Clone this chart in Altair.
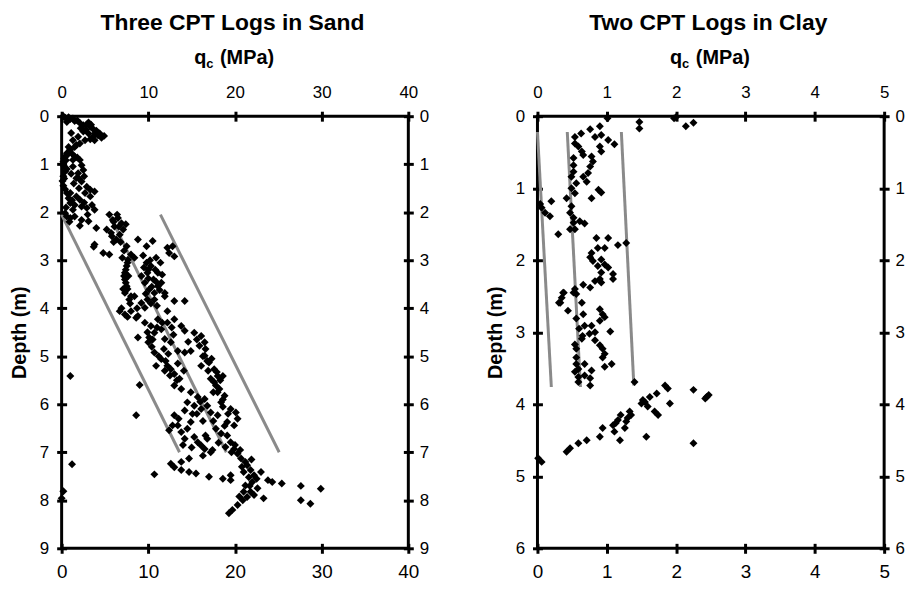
import altair as alt
import pandas as pd

FONT = "Liberation Sans, Arial, Helvetica, sans-serif"

# ---------------- data: sand (qc MPa, depth m) ----------------
sand_upper = [
    [0.4, 0.03], [0.2, 0.0], [0.8, 0.02], [1.0, 0.06], [1.3, 0.05], [1.5, 0.1], [1.8, 0.09],
    [2.1, 0.14], [2.5, 0.19], [2.9, 0.17], [3.1, 0.13], [3.3, 0.22], [3.6, 0.26], [3.4, 0.18],
    [4.0, 0.3], [4.4, 0.36], [4.9, 0.41], [4.6, 0.45], [2.5, 0.32], [2.8, 0.28], [3.1, 0.36],
    [3.6, 0.43], [3.8, 0.5], [3.3, 0.48], [2.7, 0.5], [2.1, 0.57], [1.9, 0.43], [1.5, 0.64],
    [1.3, 0.5], [1.0, 0.7], [0.8, 0.64], [0.6, 0.77], [1.7, 0.6], [0.4, 0.84], [1.2, 0.78],
    [0.3, 0.88], [0.2, 0.95], [0.3, 1.05], [0.4, 1.15], [0.2, 1.25], [0.1, 1.35], [0.2, 1.45],
    [0.4, 1.52], [0.5, 0.92], [0.6, 1.1], [0.3, 1.3], [1.5, 0.84], [2.1, 0.91], [1.8, 0.86],
    [2.3, 1.02], [2.5, 1.12], [1.9, 1.19], [1.7, 1.29], [2.3, 1.36], [2.9, 1.47], [3.3, 1.53],
    [3.8, 1.57], [3.3, 1.67], [2.7, 1.6], [1.3, 0.91], [1.3, 1.05], [1.1, 1.2], [1.4, 1.4],
    [2.0, 1.5], [0.6, 1.6], [0.8, 1.71], [1.0, 1.81], [1.5, 1.85], [2.1, 1.74], [2.3, 1.88],
    [2.9, 1.91], [3.8, 1.95], [1.7, 1.67], [1.3, 1.95], [0.4, 2.02], [0.6, 2.09], [1.0, 2.12],
    [1.5, 2.09], [2.3, 2.16], [3.1, 2.19], [2.1, 2.28], [0.9, 2.2], [1.2, 1.75], [2.6, 1.8],
    [3.0, 2.05], [0.5, 1.9], [4.2, 0.4], [3.9, 0.35], [2.2, 0.25], [2.0, 1.3], [2.6, 1.25],
    [1.0, 1.6], [3.5, 1.85], [0.7, 0.8], [1.1, 0.35], [0.6, 0.12],
]
sand_mid = [
    [5.5, 2.05], [5.9, 2.16], [6.5, 2.12], [6.9, 2.23], [7.1, 2.36], [6.1, 2.3], [5.7, 2.43],
    [5.2, 2.36], [6.3, 2.57], [6.7, 2.47], [6.4, 2.05], [7.4, 2.25], [6.0, 2.2], [5.8, 2.5],
    [6.0, 2.62], [3.8, 2.67], [4.0, 2.33], [3.7, 2.72], [4.8, 2.85], [5.5, 2.88], [7.5, 2.71],
    [8.8, 2.57], [9.8, 2.71], [10.5, 2.6], [12.2, 2.74], [12.8, 2.71], [13.0, 2.92], [12.4, 2.85],
    [8.0, 2.88], [8.4, 2.95], [7.2, 2.8], [7.65, 2.99], [7.5, 3.12], [7.3, 3.26], [7.3, 3.4],
    [7.5, 3.54], [7.3, 3.68], [8.0, 3.75], [7.6, 3.05], [7.4, 3.2], [7.2, 3.33], [7.4, 3.47],
    [7.6, 3.6], [9.8, 3.05], [10.3, 3.12], [9.9, 3.26], [9.2, 3.33], [9.6, 3.47], [10.1, 3.61],
    [10.7, 3.68], [11.1, 3.54], [11.5, 3.47], [11.1, 3.26], [10.6, 3.4], [11.9, 3.75], [10.2, 3.0],
    [10.8, 3.2], [9.5, 3.15], [10.4, 3.55], [11.3, 3.62], [9.9, 3.82], [7.8, 3.82], [8.4, 3.75],
    [6.7, 4.06], [7.3, 4.13], [8.0, 4.06], [8.8, 4.16], [9.6, 3.99], [9.2, 3.89], [10.7, 3.82],
    [11.9, 3.68], [13.0, 3.85], [14.2, 3.85], [12.2, 4.06], [6.9, 4.0], [7.6, 4.18],
    [9.4, 2.9], [10.9, 2.95], [11.4, 3.05], [10.0, 3.38], [11.6, 3.3], [7.9, 3.9], [10.3, 3.9],
    [6.6, 2.3], [6.8, 2.62], [7.0, 2.95], [7.7, 3.33], [7.1, 3.6], [9.7, 3.7], [11.0, 3.95],
    [10.0, 3.2], [10.9, 3.45], [8.7, 4.0],
]
sand_lower = [
    [8.6, 4.2], [9.6, 4.3], [10.3, 4.37], [10.7, 4.51], [10.0, 4.71], [10.1, 4.61], [11.1, 4.23],
    [11.5, 4.44], [11.9, 4.64], [12.2, 4.3], [13.0, 4.23], [13.8, 4.37], [14.2, 4.47], [8.8, 4.61],
    [10.4, 4.8], [11.0, 4.4], [9.9, 4.5], [12.6, 4.71], [13.4, 4.89], [14.2, 4.92], [14.9, 4.89],
    [15.3, 4.51], [16.1, 4.58], [16.5, 4.71], [15.9, 4.78], [16.6, 4.85], [10.7, 4.92], [11.5, 5.06],
    [10.9, 5.2], [12.2, 5.2], [12.6, 5.27], [13.0, 5.37], [13.6, 5.47], [13.0, 5.61], [13.8, 5.68],
    [11.2, 5.0], [12.0, 5.1], [13.3, 5.5], [16.5, 4.99], [17.0, 5.13], [17.6, 5.27], [18.0, 5.41],
    [17.6, 5.54], [18.2, 5.68], [18.8, 5.82], [18.4, 5.96], [17.8, 5.61], [18.6, 5.41], [17.2, 5.47],
    [16.1, 5.2], [17.3, 5.05], [17.9, 5.33], [18.3, 5.5], [18.0, 5.75], [18.6, 5.9], [16.8, 5.1],
    [1.0, 5.41], [9.0, 5.6], [8.6, 6.23], [1.2, 7.25], [0.2, 7.81], [0.0, 7.96],
    [12.9, 4.55], [14.6, 4.7], [11.8, 4.85], [12.5, 5.4], [14.1, 5.3], [12.3, 4.95],
    [10.5, 4.65], [11.6, 4.3], [12.7, 4.4], [16.9, 5.3], [17.5, 5.75], [13.4, 5.15], [11.9, 5.3],
    [16.3, 5.0], [15.6, 4.65],
]
sand_deep = [
    [14.9, 5.75], [15.7, 5.85], [16.5, 5.89], [15.3, 6.03], [14.5, 5.96], [14.2, 6.13], [16.1, 6.1],
    [16.8, 6.03], [17.2, 6.17], [18.0, 6.23], [19.5, 6.1], [20.1, 6.17], [20.3, 6.3], [19.9, 6.44],
    [19.1, 6.37], [19.2, 6.2], [16.0, 5.95], [15.6, 6.2], [13.0, 6.23], [13.4, 6.44], [12.4, 6.54],
    [13.8, 6.58], [14.5, 6.51], [14.9, 6.37], [14.2, 6.72], [15.3, 6.68], [15.7, 6.79], [16.8, 6.72],
    [16.5, 6.93], [17.2, 7.0], [17.8, 6.51], [18.4, 6.61], [19.1, 6.65], [19.5, 6.79], [18.9, 6.89],
    [19.9, 6.93], [20.3, 7.03], [20.7, 7.13], [21.2, 7.2], [21.4, 7.27], [21.8, 7.37], [21.0, 7.41],
    [22.2, 7.48], [23.0, 7.41], [23.8, 7.58], [24.3, 7.62], [25.4, 7.65], [22.0, 7.62], [21.2, 7.69],
    [21.8, 7.82], [21.0, 7.82], [21.4, 7.93], [22.2, 7.89], [23.3, 7.96], [20.9, 8.0], [20.3, 8.1],
    [19.7, 8.2], [19.3, 8.27], [27.6, 7.7], [29.9, 7.76], [27.6, 8.0], [28.7, 8.07], [12.8, 6.44],
    [16.1, 6.86], [16.6, 6.65], [16.3, 7.07], [13.5, 6.3], [14.0, 6.85], [19.6, 7.0], [20.0, 6.85],
    [20.8, 7.3], [22.5, 7.55], [21.6, 7.52], [12.6, 7.24], [13.0, 7.31], [13.8, 7.2], [14.7, 7.13],
    [13.8, 7.37], [14.7, 7.41], [15.5, 7.44], [17.0, 7.51], [18.6, 7.55], [19.5, 7.58], [19.5, 7.48],
    [10.7, 7.46], [17.4, 6.95], [18.6, 6.05], [17.5, 6.35], [15.0, 6.9], [18.1, 6.8], [21.7, 7.7],
    [15.1, 6.2], [16.3, 6.35], [18.8, 6.45], [20.6, 6.95], [21.9, 7.15], [22.6, 7.75], [20.5, 7.92],
]
sand_lines = {
    "a": [[0.0, 2.05], [13.6, 7.0]],
    "b": [[5.5, 2.05], [19.0, 7.0]],
    "c": [[11.4, 2.05], [25.1, 7.0]],
}

# ---------------- data: clay ----------------
clay_upper = [
    [1.01, 0.03], [1.47, 0.08], [1.47, 0.17], [1.97, 0.03], [2.0, 0.01], [2.14, 0.14], [2.25, 0.09],
    [0.9, 0.14], [0.76, 0.18], [0.63, 0.24], [0.83, 0.29], [0.92, 0.26], [1.02, 0.33], [1.11, 0.39],
    [0.9, 0.42], [0.92, 0.49], [0.54, 0.29], [0.54, 0.38], [0.59, 0.42], [0.64, 0.49], [0.66, 0.54],
    [0.78, 0.56], [0.8, 0.63], [0.76, 0.7], [0.73, 0.79], [0.66, 0.84], [0.71, 0.91], [0.52, 0.58],
    [0.52, 0.68], [0.52, 0.77], [0.49, 0.84], [0.56, 0.93], [0.49, 1.0], [0.54, 1.07], [0.78, 1.14],
    [0.88, 1.02], [0.92, 1.06], [0.42, 1.14], [0.49, 1.25], [0.47, 1.34], [0.52, 1.41], [0.52, 1.48],
    [0.61, 1.46], [0.68, 1.49], [0.47, 1.57], [0.54, 1.57], [0.3, 1.64], [0.06, 1.27], [0.11, 1.34],
    [0.2, 1.18], [0.18, 1.39], [0.04, 1.22], [0.85, 1.69], [1.02, 1.69], [1.16, 1.79], [1.28, 1.76],
    [0.87, 1.83], [0.97, 1.83], [0.78, 1.9], [0.76, 1.96], [0.8, 2.01], [0.92, 1.99], [0.87, 2.08],
    [0.97, 2.06], [0.92, 2.17], [1.09, 2.19], [0.9, 2.26], [0.83, 2.29], [1.02, 2.1], [0.66, 2.34],
    [0.54, 2.4], [0.37, 2.45], [0.35, 2.52], [0.76, 2.38], [0.52, 2.45], [0.33, 2.59], [0.44, 2.7],
    [0.56, 2.47], [0.64, 2.59], [0.92, 2.31], [1.09, 2.26], [0.56, 2.81], [0.66, 2.75], [0.68, 2.91],
    [0.78, 2.91], [0.9, 2.68], [0.94, 2.75], [0.97, 2.79], [0.9, 2.84], [1.05, 2.99], [0.83, 3.0],
    [0.75, 3.02], [0.64, 3.09], [0.83, 3.11], [0.54, 3.17], [0.56, 3.23], [0.56, 3.35], [0.56, 3.44],
    [0.59, 3.51], [0.54, 3.55], [0.59, 3.62], [0.59, 3.69], [0.68, 3.6], [0.76, 3.74], [0.76, 3.64],
    [0.78, 3.53], [0.9, 3.18], [0.94, 3.23], [0.97, 3.3], [0.94, 3.35], [0.97, 3.48], [1.07, 3.44],
    [0.68, 3.44], [0.6, 2.95], [0.65, 3.05], [0.31, 2.59], [0.38, 2.45],
]
clay_lower = [
    [0.01, 4.75], [0.06, 4.8], [0.42, 4.66], [0.47, 4.61], [0.59, 4.54], [0.71, 4.5], [0.9, 4.45],
    [0.94, 4.33], [1.09, 4.29], [1.11, 4.38], [1.16, 4.22], [1.2, 4.15], [1.26, 4.33], [1.19, 4.5],
    [1.28, 4.24], [1.33, 4.1], [1.35, 4.15], [1.5, 3.99], [1.52, 3.94], [1.59, 4.03], [1.57, 4.45],
    [1.62, 3.9], [1.72, 3.85], [1.69, 4.1], [1.74, 4.15], [1.84, 3.74], [1.88, 3.78], [1.91, 3.99],
    [2.25, 3.8], [2.25, 4.54], [2.42, 3.92], [2.47, 3.87], [2.44, 3.9], [1.4, 3.69], [1.13, 4.26],
    [1.3, 4.19], [1.55, 3.97],
]
clay_lines = {
    "a": [[0.0, 0.22], [0.2, 3.76]],
    "b": [[0.43, 0.22], [0.62, 3.76]],
    "c": [[1.21, 0.22], [1.39, 3.74]],
}

sand_x_ticks = [0, 10, 20, 30, 40]
sand_y_ticks = list(range(0, 10))
clay_x_ticks = [0, 1, 2, 3, 4, 5]
clay_y_ticks = list(range(0, 7))


def points_df(*groups):
    rows = [p for g in groups for p in g]
    return pd.DataFrame(rows, columns=["qc", "depth"])


def lines_df(d):
    rows = [[k, p[0], p[1]] for k, pts in d.items() for p in pts]
    return pd.DataFrame(rows, columns=["line", "qc", "depth"])


W, H = 349, 435


def axis(orient, values, **kw):
    base = dict(
        orient=orient, values=values, domain=False, offset=-5, tickSize=10, tickWidth=3,
        tickColor="black", grid=False, labelFont=FONT, labelFontSize=18, labelColor="black",
        labelFlush=False, labelOverlap=False, format="d",
    )
    base.update(kw)
    return alt.Axis(**base)


def panel(pts, lns, xmax, ymax, xt, yt, title):
    xs = alt.Scale(domain=[0, xmax], nice=False, zero=True)
    ys = alt.Scale(domain=[0, ymax], nice=False, reverse=True)
    lines = alt.Chart(lns).mark_line(color="#8a8a8a", strokeWidth=3).encode(
        x=alt.X("qc:Q", scale=xs, axis=axis("top", xt, title=None, labelBaseline="alphabetic",
                                            labelPadding=14, labelFontSize=17)),
        y=alt.Y("depth:Q", scale=ys, axis=axis("right", yt, title=None, labelPadding=6, labelFontSize=17)),
        detail="line:N",
    )
    points = alt.Chart(pts).mark_point(
        shape="diamond", filled=True, size=64, color="black", opacity=1, strokeWidth=0
    ).encode(
        x=alt.X("qc:Q", scale=xs, axis=axis("bottom", xt, title=None, labelBaseline="alphabetic",
                                            labelPadding=24, labelFontSize=19)),
        y=alt.Y("depth:Q", scale=ys, axis=axis(
            "left", yt, title="Depth (m)", labelPadding=8, labelFontSize=17, titleFont=FONT,
            titleFontSize=20, titleFontWeight="bold", titleColor="black", titlePadding=10)),
    )
    one = pd.DataFrame({"k": [0]})

    def txt(s, x, y, size, align="left"):
        return alt.Chart(one).mark_text(
            text=s, font=FONT, fontSize=size, fontWeight="bold", color="black",
            align=align, baseline="alphabetic"
        ).encode(x=alt.value(x), y=alt.value(y))

    t_title = txt(title, 172, -86.7, 23, align="center")
    t_q = txt("q", 133.4, -52.7, 20)
    t_c = txt("c", 145.5, -49, 13)
    t_mpa = txt("(MPa)", 159.4, -52.7, 20)
    return alt.layer(lines, points, t_title, t_q, t_c, t_mpa).resolve_scale(
        x="independent", y="independent"
    ).properties(width=W, height=H)


left = panel(points_df(sand_upper, sand_mid, sand_lower, sand_deep), lines_df(sand_lines),
             40, 9, sand_x_ticks, sand_y_ticks, "Three CPT Logs in Sand")
right = panel(points_df(clay_upper, clay_lower), lines_df(clay_lines),
              5, 6, clay_x_ticks, clay_y_ticks, "Two CPT Logs in Clay")

chart = alt.hconcat(left, right, spacing=54).properties(
    padding={"left": 0, "top": 0, "right": 0, "bottom": -3}, background="white"
).configure_view(stroke="black", strokeWidth=3)

chart.save("out.html", embed_options={"renderer": "svg", "actions": False})
